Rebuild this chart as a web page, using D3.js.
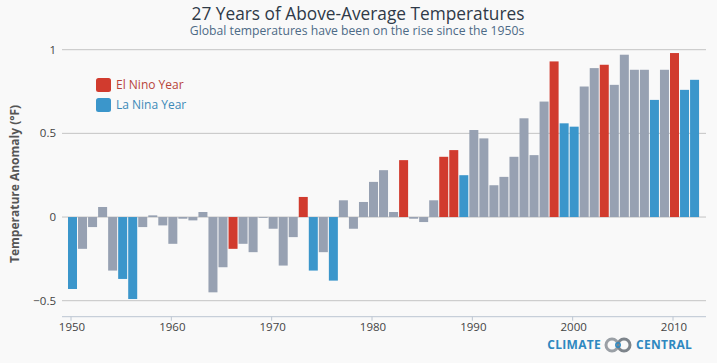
<!DOCTYPE html>
<html lang="en">
<head>
<meta charset="utf-8">
<title>27 Years of Above-Average Temperatures</title>
<script src="https://cdn.jsdelivr.net/npm/d3@7/dist/d3.min.js"></script>
<style>
    body { margin: 0; background: #f9f9f9; }
    svg { display: block; font-family: "Open Sans", Lato, sans-serif; }
</style>
</head>
<body>
<div id="chart"></div>
<script>
    // years 1950 - 2012
    const years = d3.range(1950, 2013);
    const anomalies = [
        -0.43, -0.19, -0.06, 0.06, -0.32, -0.37, -0.49, -0.06, 0.01, -0.05,
        -0.16, -0.01, -0.02, 0.03, -0.45, -0.30, -0.19, -0.16, -0.21, 0.00,
        -0.07, -0.29, -0.12, 0.12, -0.32, -0.21, -0.38, 0.10, -0.07, 0.09,
        0.21, 0.28, 0.03, 0.34, -0.01, -0.03, 0.10, 0.36, 0.40, 0.25,
        0.52, 0.47, 0.19, 0.24, 0.36, 0.59, 0.37, 0.69, 0.93, 0.56,
        0.54, 0.78, 0.89, 0.91, 0.79, 0.97, 0.88, 0.88, 0.70, 0.88,
        0.98, 0.76, 0.82
    ];
    const elNinoYears = [1966, 1973, 1983, 1987, 1988, 1998, 2003, 2010];
    const laNinaYears = [1950, 1955, 1956, 1974, 1976, 1989, 1999, 2000, 2008, 2011, 2012];
    const yTicks = [-0.5, 0, 0.5, 1];
    const xTicks = [1950, 1960, 1970, 1980, 1990, 2000, 2010];

    const width = 717, height = 363;
    const colors = { elnino: "#d13b2e", lanina: "#3b96cb", other: "#97a1b2" };

    const data = years.map((y, i) => ({
        year: y,
        value: anomalies[i],
        type: elNinoYears.includes(y) ? "elnino" : laNinaYears.includes(y) ? "lanina" : "other"
    }));

    const svg = d3.select("#chart").append("svg")
        .attr("width", width)
        .attr("height", height);

    // échelles
    const x = d3.scaleLinear().domain([1950, 2010]).range([71, 673]);
    const y = d3.scaleLinear().domain([-0.5, 1]).range([300.7, 49.7]);
    const barW = 9;

    // titre
    svg.append("text")
        .attr("x", 358).attr("y", 19.5)
        .attr("text-anchor", "middle")
        .attr("font-size", 17.3)
        .attr("fill", "#2f3a48")
        .text("27 Years of Above-Average Temperatures");
    svg.append("text")
        .attr("x", 357).attr("y", 35)
        .attr("text-anchor", "middle")
        .attr("font-size", 12.2)
        .attr("fill", "#4d6a86")
        .text("Global temperatures have been on the rise since the 1950s");

    // grille
    svg.append("g")
        .selectAll("line")
        .data(yTicks)
        .join("line")
        .attr("x1", 62).attr("x2", 706)
        .attr("y1", d => y(d)).attr("y2", d => y(d))
        .attr("stroke", "#c4c4c4")
        .attr("stroke-width", 1);

    svg.append("g")
        .selectAll("text")
        .data(yTicks)
        .join("text")
        .attr("x", 56)
        .attr("y", d => y(d))
        .attr("dy", "0.35em")
        .attr("text-anchor", "end")
        .attr("font-size", 11.5)
        .attr("fill", "#444")
        .text(d => d === -0.5 ? "\u22120.5" : d);

    // barres
    svg.append("g")
        .selectAll("rect")
        .data(data)
        .join("rect")
        .attr("x", d => x(d.year) + 1.5 - barW / 2)
        .attr("width", barW)
        .attr("y", d => y(Math.max(0, d.value)))
        .attr("height", d => Math.max(0.8, Math.abs(y(d.value) - y(0))))
        .attr("fill", d => colors[d.type]);

    // axe x
    const xAxis = svg.append("g").attr("transform", "translate(0,316.7)");
    xAxis.append("line")
        .attr("x1", 62).attr("x2", 706)
        .attr("stroke", "#bcc6d2");
    xAxis.selectAll("line.tick")
        .data(xTicks)
        .join("line")
        .attr("class", "tick")
        .attr("x1", d => x(d)).attr("x2", d => x(d))
        .attr("y1", 0).attr("y2", 4)
        .attr("stroke", "#bcc6d2");
    xAxis.selectAll("text")
        .data(xTicks)
        .join("text")
        .attr("x", d => x(d) + 1)
        .attr("y", 14.5)
        .attr("text-anchor", "middle")
        .attr("font-size", 11.5)
        .attr("fill", "#444")
        .text(d => d);

    // titre axe y
    svg.append("text")
        .attr("transform", "translate(19,184) rotate(-90)")
        .attr("text-anchor", "middle")
        .attr("font-size", 12)
        .attr("font-weight", "bold")
        .attr("fill", "#555")
        .text("Temperature Anomaly (\u00b0F)");

    // légende
    const legend = svg.append("g").attr("transform", "translate(96,78)");
    const legendItems = [
        { label: "El Nino Year", color: colors.elnino, text: "#b8443a" },
        { label: "La Nina Year", color: colors.lanina, text: "#3d8ab8" }
    ];
    legendItems.forEach((item, i) => {
        legend.append("rect")
            .attr("y", i * 20)
            .attr("width", 15).attr("height", 14)
            .attr("rx", 2.5)
            .attr("fill", item.color);
        legend.append("text")
            .attr("x", 20).attr("y", i * 20 + 7)
            .attr("dy", "0.35em")
            .attr("font-size", 12)
            .attr("fill", item.text)
            .text(item.label);
    });

    // logo
    const logo = svg.append("g").attr("transform", "translate(0,345)");
    logo.append("text")
        .attr("x", 601).attr("dy", "0.35em")
        .attr("text-anchor", "end")
        .attr("font-size", 12).attr("font-weight", "bold")
        .attr("letter-spacing", 0.3)
        .attr("fill", "#2e88c0")
        .text("CLIMATE");
    logo.append("circle").attr("cx", 612).attr("r", 6)
        .attr("fill", "none").attr("stroke", "#9aa0a6").attr("stroke-width", 3);
    logo.append("circle").attr("cx", 624).attr("r", 6)
        .attr("fill", "none").attr("stroke", "#7d848b").attr("stroke-width", 3);
    logo.append("circle").attr("cx", 618).attr("r", 2.2)
        .attr("fill", "none").attr("stroke", "#2e88c0").attr("stroke-width", 1.5);
    logo.append("text")
        .attr("x", 636).attr("dy", "0.35em")
        .attr("font-size", 12).attr("font-weight", "bold")
        .attr("letter-spacing", 0.3)
        .attr("fill", "#2e88c0")
        .text("CENTRAL");
</script>
</body>
</html>
